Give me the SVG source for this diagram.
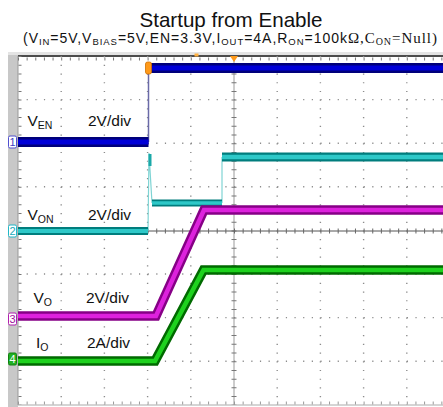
<svg xmlns="http://www.w3.org/2000/svg" width="443" height="407" viewBox="0 0 443 407">
  <style>
    .lbl { font-family: "Liberation Sans", Arial, sans-serif; font-size: 15.5px; fill: #111; }
    .sub { font-size: 10.5px; }
    .gh { stroke: #8c8c8c; stroke-width: 1.4; stroke-dasharray: 1.2 7.44; fill: none; }
    .gv { stroke: #8c8c8c; stroke-width: 1.4; stroke-dasharray: 1.2 7.52; fill: none; }
    .trace { fill: none; stroke-linejoin: miter; }
    .mk { font-family: "Liberation Sans", Arial, sans-serif; font-size: 11px; text-anchor: middle; }
  </style>

  <rect width="443" height="407" fill="#ffffff"/>

  <!-- title -->
  <text x="231" y="27" text-anchor="middle" font-family="Liberation Sans, Arial, sans-serif" font-size="20.6" fill="#111">Startup from Enable</text>
  <text x="23" y="43" textLength="414" lengthAdjust="spacing" font-family="Liberation Sans, Arial, sans-serif" font-size="14" fill="#111">(V<tspan font-size="9.5" dy="1.5">IN</tspan><tspan dy="-1.5">=5V,V</tspan><tspan font-size="9.5" dy="1.5">BIAS</tspan><tspan dy="-1.5">=5V,EN=3.3V,I</tspan><tspan font-size="9.5" dy="1.5">OUT</tspan><tspan dy="-1.5">=4A,R</tspan><tspan font-size="9.5" dy="1.5">ON</tspan><tspan dy="-1.5">=100k</tspan><tspan font-family="Liberation Serif, Times New Roman, serif" font-size="15">Ω,C</tspan><tspan font-family="Liberation Serif, Times New Roman, serif" font-size="10" dy="1.5">ON</tspan><tspan font-family="Liberation Serif, Times New Roman, serif" font-size="15" dy="-1.5">=Null)</tspan></text>

  <!-- screen frame -->
  <g id="screen">
    <rect x="8" y="53" width="10" height="354" fill="#c8c8c8"/>
    <rect x="8" y="52" width="435" height="3" fill="#e4e4e4"/>
    <line x1="18" y1="56" x2="443" y2="56" stroke="#111" stroke-width="1.5"/>
    <line x1="18" y1="405" x2="443" y2="405" stroke="#aaa" stroke-width="1"/>
    <line x1="18" y1="56" x2="18" y2="405" stroke="#999" stroke-width="1"/>
    <!-- border ticks -->
    <line x1="18" y1="59" x2="443" y2="59" stroke="#777" stroke-width="3" stroke-dasharray="1 7.64"/>
    <line x1="20" y1="56" x2="20" y2="405" stroke="#777" stroke-width="3" stroke-dasharray="1 7.72"/>
    <line x1="18" y1="403" x2="443" y2="403" stroke="#999" stroke-width="3" stroke-dasharray="1 7.64"/>
  </g>

  <!-- graticule -->
  <g id="grid">
    <line class="gh" x1="18" y1="99.6" x2="443" y2="99.6"/>
    <line class="gh" x1="18" y1="143.2" x2="443" y2="143.2"/>
    <line class="gh" x1="18" y1="186.8" x2="443" y2="186.8"/>
    <line class="gh" x1="18" y1="274" x2="443" y2="274"/>
    <line class="gh" x1="18" y1="317.6" x2="443" y2="317.6"/>
    <line class="gh" x1="18" y1="361.2" x2="443" y2="361.2"/>
    <line class="gv" x1="61.2" y1="56" x2="61.2" y2="405"/>
    <line class="gv" x1="104.4" y1="56" x2="104.4" y2="405"/>
    <line class="gv" x1="147.6" y1="56" x2="147.6" y2="405"/>
    <line class="gv" x1="190.8" y1="56" x2="190.8" y2="405"/>
    <line class="gv" x1="277.2" y1="56" x2="277.2" y2="405"/>
    <line class="gv" x1="320.4" y1="56" x2="320.4" y2="405"/>
    <line class="gv" x1="363.6" y1="56" x2="363.6" y2="405"/>
    <line class="gv" x1="406.8" y1="56" x2="406.8" y2="405"/>
    <!-- centre axes with minor ticks -->
    <line x1="234" y1="56" x2="234" y2="405" stroke="#9a9a9a" stroke-width="1"/>
    <line x1="234" y1="56" x2="234" y2="405" stroke="#777" stroke-width="5" stroke-dasharray="1 7.72"/>
    <line x1="18" y1="231" x2="443" y2="231" stroke="#555" stroke-width="1"/>
    <line x1="18" y1="231" x2="443" y2="231" stroke="#666" stroke-width="5" stroke-dasharray="1 7.64"/>
  </g>

  <!-- waveforms -->
  <g id="connectors">
    <!-- V_EN -->
    <line x1="148.5" y1="68" x2="148.5" y2="142" stroke="#6a6aa8" stroke-width="1.5"/>
    <path class="trace" d="M18,142 H148.5" stroke="#00007a" stroke-width="10"/>
    <path class="trace" d="M18,142 H148.5" stroke="#0000d8" stroke-width="5"/>
    <path class="trace" d="M148.5,68 H443" stroke="#00007a" stroke-width="10"/>
    <path class="trace" d="M148.5,68 H443" stroke="#0000d8" stroke-width="5"/>

    <!-- V_ON -->
    <path class="trace" d="M148,231 L149,153 L152,203" stroke="#7fd4d4" stroke-width="1.2"/>
    <line x1="150" y1="154" x2="150" y2="166" stroke="#1aa8a8" stroke-width="3"/>
    <line x1="222" y1="157" x2="222" y2="203" stroke="#7fd4d4" stroke-width="1.2"/>
    <path class="trace" d="M18,231 H148" stroke="#007d7d" stroke-width="8"/>
    <path class="trace" d="M18,231 H148" stroke="#2ec8c8" stroke-width="4"/>
    <path class="trace" d="M152,203 H222" stroke="#007d7d" stroke-width="7"/>
    <path class="trace" d="M152,203 H222" stroke="#2ec8c8" stroke-width="3.5"/>
    <path class="trace" d="M222,157 H443" stroke="#007d7d" stroke-width="9"/>
    <path class="trace" d="M222,157 H443" stroke="#2ec8c8" stroke-width="4.5"/>

    <!-- V_O -->
    <path class="trace" d="M18,316 H156 L204,210 H443" stroke="#860086" stroke-width="9.5"/>
    <path class="trace" d="M18,316 H156 L204,210 H443" stroke="#dd22dd" stroke-width="4.5"/>

    <!-- I_O -->
    <path class="trace" d="M18,361 H155 L203.5,270 H443" stroke="#006a00" stroke-width="9.5"/>
    <path class="trace" d="M18,361 H155 L203.5,270 H443" stroke="#1ed21e" stroke-width="4.5"/>
  </g>

  <!-- trigger markers -->
  <g id="trigger">
    <rect x="145.5" y="62" width="6" height="12" rx="2" fill="#ff9a1a" stroke="#d07000" stroke-width="0.8"/>
    <path d="M230,56 H238 L234,62 Z" fill="#ff9a1a"/>
    <rect x="194.5" y="53.5" width="4" height="3" fill="#ffb040"/>
  </g>

  <!-- channel markers -->
  <g id="ch1">
    <rect x="8.5" y="136" width="8" height="12" rx="1.5" fill="#fff" stroke="#5050d0" stroke-width="1"/>
    <text class="mk" x="12.5" y="146" fill="#4040c0">1</text>
  </g>
  <g id="ch2">
    <rect x="8.5" y="225" width="8" height="12" rx="1.5" fill="#fff" stroke="#20b8c8" stroke-width="1"/>
    <text class="mk" x="12.5" y="235" fill="#20a8b8">2</text>
  </g>
  <g id="ch3">
    <rect x="8.5" y="313" width="8" height="12" rx="1.5" fill="#fff" stroke="#b020b0" stroke-width="1"/>
    <text class="mk" x="12.5" y="323" fill="#a010a0">3</text>
  </g>
  <g id="ch4">
    <rect x="8.5" y="353" width="8" height="12" rx="1.5" fill="#22b022" stroke="#108010" stroke-width="1"/>
    <text class="mk" x="12.5" y="363" fill="#fff">4</text>
  </g>

  <!-- channel labels -->
  <g id="label-ven">
    <text class="lbl" x="27.5" y="126">V<tspan class="sub" dy="2.5">EN</tspan></text>
    <text class="lbl" x="88" y="126">2V/div</text>
  </g>
  <g id="label-von">
    <text class="lbl" x="27.5" y="220">V<tspan class="sub" dy="2.5">ON</tspan></text>
    <text class="lbl" x="88" y="220">2V/div</text>
  </g>
  <g id="label-vo">
    <text class="lbl" x="33.5" y="303">V<tspan class="sub" dy="2.5">O</tspan></text>
    <text class="lbl" x="86" y="303">2V/div</text>
  </g>
  <g id="label-io">
    <text class="lbl" x="36" y="348">I<tspan class="sub" dy="2.5">O</tspan></text>
    <text class="lbl" x="87" y="348">2A/div</text>
  </g>
</svg>
